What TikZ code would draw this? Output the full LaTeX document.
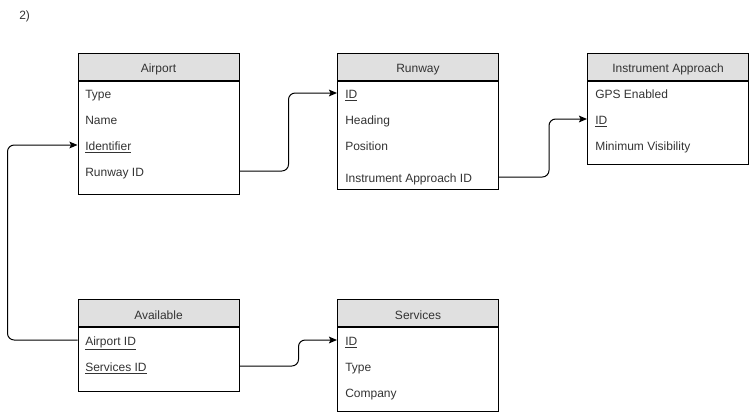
\documentclass[tikz,border=0pt]{standalone}
\usepackage{fontspec}
\setmainfont{Liberation Sans}
\usepackage{xcolor}
\usetikzlibrary{arrows.meta}
\usetikzlibrary{positioning}
\definecolor{headgray}{HTML}{E0E0E0}
\definecolor{txtgray}{HTML}{333333}

\begin{document}
\begin{tikzpicture}[x=0.75pt,y=-0.75pt]
\tikzset{>={Stealth[width=5pt,length=6pt,inset=1.2pt]}}
\tikzstyle{head}=[draw,fill=headgray,line width=0.75pt,minimum width=120.75pt,minimum height=20.25pt,inner sep=0pt,text height=9pt,text depth=0pt,font=\fontsize{9}{11}\selectfont,text=txtgray]
\tikzstyle{body}=[draw,line width=0.75pt,minimum width=120.75pt,inner sep=0pt,anchor=north]
\tikzstyle{field}=[anchor=west,inner sep=0pt,text height=8.5pt,text depth=0.5pt,font=\fontsize{9}{11}\selectfont,text=txtgray]
\tikzstyle{link}=[->,line width=0.75pt,rounded corners=5pt]

\useasboundingbox (0,0) rectangle (750,412);

\node[field] (title) at (19,14) {2)};

% Airport
\node[head] (airport) at (158.5,66.5) {Airport};
\node[body,minimum height=84.75pt] (airportbox) at (airport.south) {};
\node[field] (airporttype) at (85,93) {Type};
\node[field] (airportname) at (85,119) {Name};
\node[field] (airportident) at (85,145) {\underline{Identifier}};
\node[field] (airportrwy) at (85,171) {Runway ID};

% Runway
\node[head] (runway) at (418,66.5) {Runway};
\node[body,minimum height=81pt] (runwaybox) at (runway.south) {};
\node[field] (runwayid) at (345,93) {\underline{ID}};
\node[field] (runwayhdg) at (345,119) {Heading};
\node[field] (runwaypos) at (345,145) {Position};
\node[field] (runwayiap) at (345,177) {Instrument Approach ID};

% Instrument Approach
\node[head] (approach) at (668,66.5) {Instrument Approach};
\node[body,minimum height=62.25pt] (approachbox) at (approach.south) {};
\node[field] (approachgps) at (595,93) {GPS Enabled};
\node[field] (approachid) at (595,119) {\underline{ID}};
\node[field] (approachvis) at (595,145) {Minimum Visibility};

% Available
\node[head] (avail) at (158.5,313) {Available};
\node[body,minimum height=48pt] (availbox) at (avail.south) {};
\node[field] (availairport) at (85,340) {\underline{Airport ID}};
\node[field] (availservice) at (85,366) {\underline{Services ID}};

% Services
\node[head] (services) at (418,313) {Services};
\node[body,minimum height=63pt] (servicesbox) at (services.south) {};
\node[field] (servicesid) at (345,340) {\underline{ID}};
\node[field] (servicestype) at (345,366) {Type};
\node[field] (servicesco) at (345,392) {Company};

% links
\draw[link] (airportbox.east |- airportrwy) -- ++(49,0) |- (runwaybox.west |- runwayid);
\draw[link] (runwaybox.east |- runwayiap) -- ++(50,0) |- (approachbox.west |- approachid);
\draw[link] (availbox.west |- availairport) -- ++(-70,0) |- (airportbox.west |- airportident);
\draw[link] (availbox.east |- availservice) -- ++(59,0) |- (servicesbox.west |- servicesid);
\end{tikzpicture}
\end{document}
